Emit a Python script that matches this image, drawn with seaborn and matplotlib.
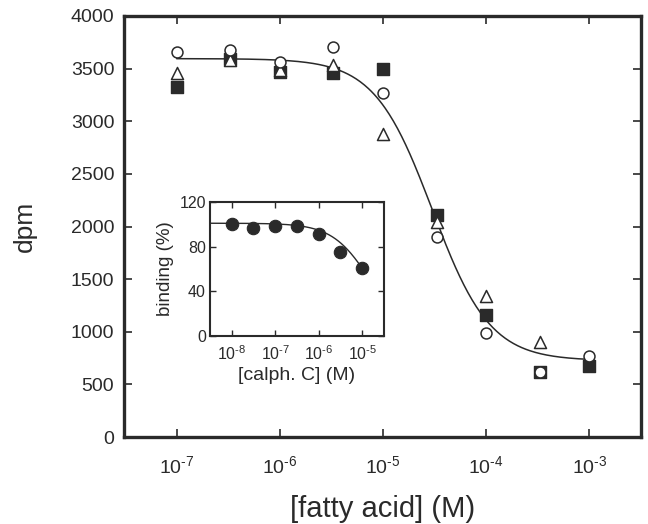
import numpy as np
import pandas as pd
import matplotlib
matplotlib.use("Agg")
import matplotlib.pyplot as plt
import matplotlib.ticker as mticker
import seaborn as sns

# ---- main data ----
conc = [1e-7, 3.3e-7, 1e-6, 3.3e-6, 1e-5, 3.3e-5, 1e-4, 3.3e-4, 1e-3]
circles = [3660, 3680, 3560, 3710, 3270, 1900, 990, 620, 770]
triangles = [3460, 3580, 3490, 3530, 2880, 2040, 1340, 900]
squares = [3330, 3590, 3470, 3460, 3500, 2110, 1160, 620, 670]

# fitted curve parameters (main)
fit_top, fit_bottom, fit_ec50, fit_hill = 3595, 725, 3.0e-5, 1.55

# ---- inset data ----
inset_conc = [1e-8, 3.16e-8, 1e-7, 3.16e-7, 1e-6, 3.16e-6, 1e-5]
inset_binding = [100, 97, 98.5, 98.5, 91, 75.5, 60.5]
ins_top, ins_ec50, ins_hill = 101, 1.5e-5, 1.0

xticks_main = [1e-7, 1e-6, 1e-5, 1e-4, 1e-3]
yticks_main = [0, 500, 1000, 1500, 2000, 2500, 3000, 3500, 4000]
xticks_ins = [1e-8, 1e-7, 1e-6, 1e-5]
yticks_ins = [0, 40, 80, 120]

sns.set_theme(style="ticks")
plt.rcParams["font.family"] = ["Liberation Sans", "DejaVu Sans"]
plt.rcParams["mathtext.default"] = "regular"

ink = "#2a2a2a"


def pow_label(v):
    return "$10^{\u2010%d}$" % abs(int(round(np.log10(v))))


fig = plt.figure(figsize=(6.48, 5.24), dpi=100)
ax = fig.add_axes([124/648, 1-437/524, (641-124)/648, (437-16)/524])

df_c = pd.DataFrame({"x": conc, "y": circles})
df_t = pd.DataFrame({"x": conc[:len(triangles)], "y": triangles})
df_s = pd.DataFrame({"x": conc, "y": squares})

xc = np.logspace(-7, -3, 300)
yc = fit_bottom + (fit_top - fit_bottom) / (1 + (xc / fit_ec50) ** fit_hill)
sns.lineplot(x=xc, y=yc, ax=ax, color=ink, lw=1.1, zorder=1)

sns.scatterplot(data=df_s, x="x", y="y", ax=ax, marker="s", s=78,
                color=ink, edgecolor=ink, linewidth=1, zorder=2)
sns.scatterplot(data=df_t, x="x", y="y", ax=ax, marker="^", s=75,
                facecolor="white", edgecolor=ink, linewidth=1.1, zorder=3)
sns.scatterplot(data=df_c, x="x", y="y", ax=ax, marker="o", s=62,
                facecolor="white", edgecolor=ink, linewidth=1.1, zorder=4)

ax.set_xscale("log")
ax.set_xlim(10**-7.51, 10**-2.5)
ax.set_ylim(0, 4000)
ax.set_xticks(xticks_main)
ax.set_xticklabels([pow_label(v) for v in xticks_main])
ax.xaxis.set_minor_locator(mticker.NullLocator())
ax.set_yticks(yticks_main)
ax.tick_params(axis="both", which="major", direction="in", length=6, width=1.2,
               top=True, right=True, labelsize=14, colors=ink)
ax.tick_params(axis="x", pad=13)
ax.tick_params(axis="y", pad=7)
for sp in ax.spines.values():
    sp.set_linewidth(2.4)
    sp.set_color(ink)
ax.set_xlabel("[fatty acid] (M)", fontsize=21, color=ink, labelpad=13)
ax.set_ylabel("dpm", fontsize=19, color=ink, labelpad=24)

# ---- inset ----
axi = fig.add_axes([210/648, 1-336/524, (384-210)/648, (336-202)/524])
xi = np.logspace(-8.5, -5, 200)
yi = ins_top / (1 + (xi / ins_ec50) ** ins_hill)
sns.lineplot(x=xi, y=yi, ax=axi, color=ink, lw=1.0, zorder=1)
sns.scatterplot(x=inset_conc, y=inset_binding, ax=axi, marker="o", s=80,
                color=ink, edgecolor=ink, linewidth=0.8, zorder=2)
axi.set_xscale("log")
axi.set_xlim(10**-8.5, 10**-4.5)
axi.set_ylim(0, 120)
axi.set_xticks(xticks_ins)
axi.set_xticklabels([pow_label(v) for v in xticks_ins])
axi.xaxis.set_minor_locator(mticker.NullLocator())
axi.set_yticks(yticks_ins)
axi.tick_params(axis="both", which="major", direction="in", length=4, width=1,
                top=True, right=True, labelsize=11.5, colors=ink)
axi.tick_params(axis="x", pad=6)
axi.tick_params(axis="y", pad=3)
for sp in axi.spines.values():
    sp.set_linewidth(1.5)
    sp.set_color(ink)
axi.set_xlabel("[calph. C] (M)", fontsize=14, color=ink, labelpad=3)
axi.set_ylabel("binding (%)", fontsize=13.5, color=ink, labelpad=4)

fig.savefig("out.png", dpi=100)
